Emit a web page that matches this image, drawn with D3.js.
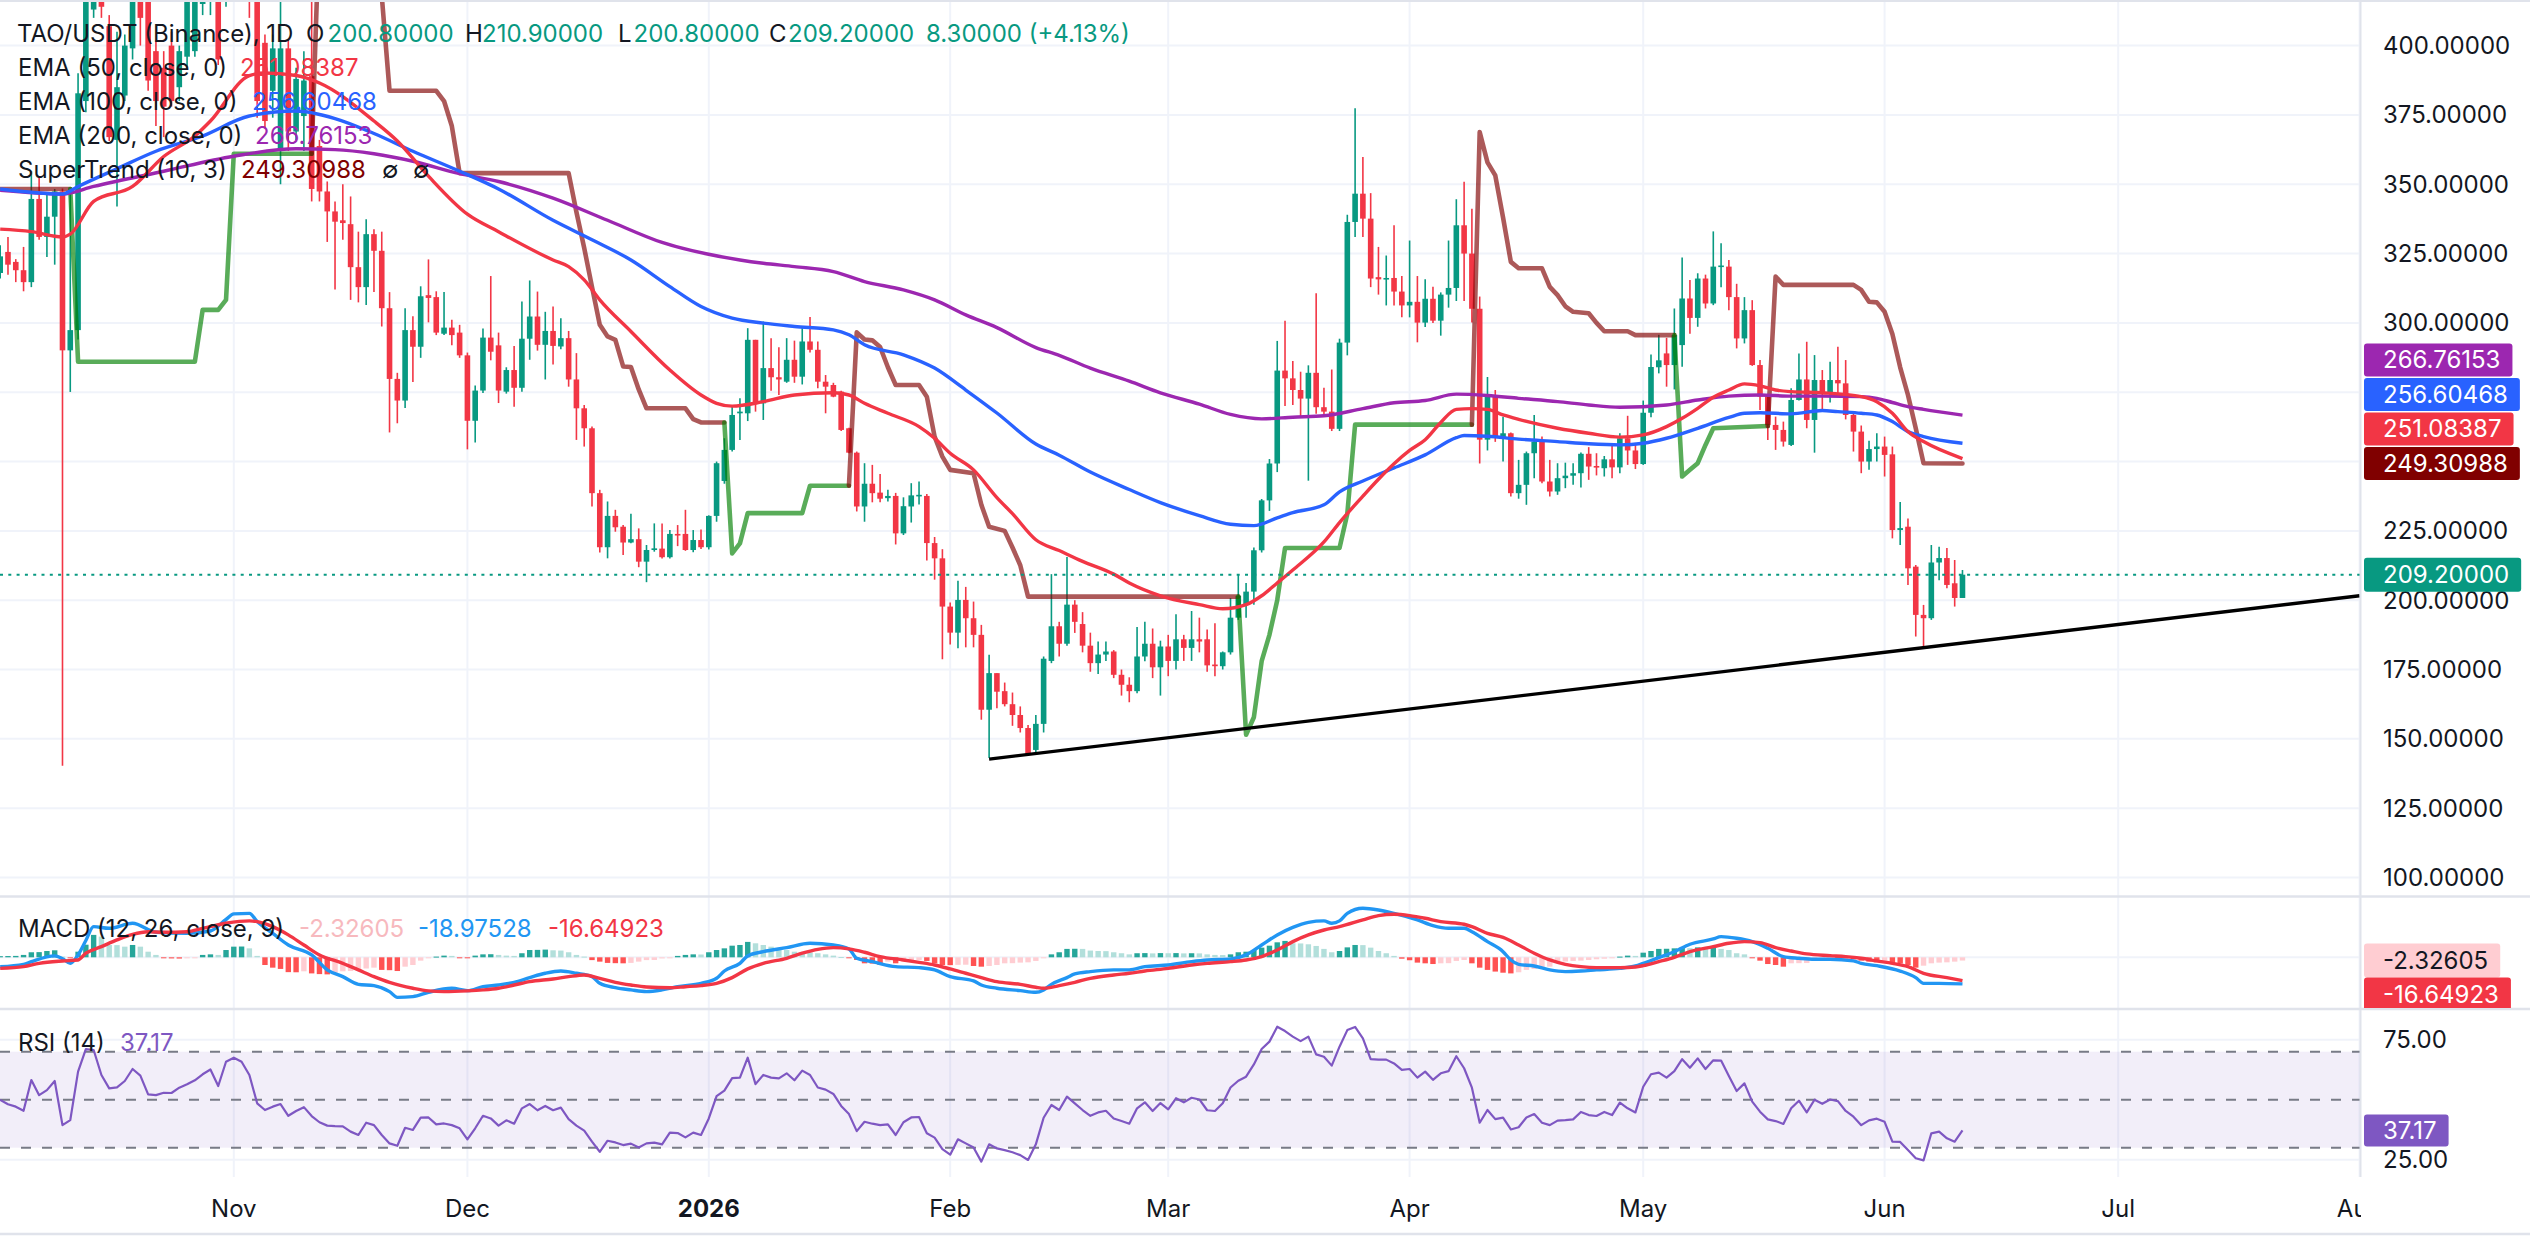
<!DOCTYPE html>
<html>
<head>
<meta charset="utf-8">
<script src="https://cdn.jsdelivr.net/npm/d3@7"></script>
<style>
  html, body { margin: 0; padding: 0; background: #fff; }
  svg text { font-family: Inter, "Noto Sans", sans-serif; }
</style>
</head>
<body>
<svg id="chart" width="2530" height="1253"></svg>
<script>
// ---- data ----
const firstDay = "2025-10-02";

// daily candles [open, high, low, close], one per day from firstDay
const candles = [
  // Oct
  [318,328,316,324],[325.6,331,317.4,321],[322,323,314.7,319],[319,327.4,311.4,314.7],[314.7,354.7,312.9,344.7],
  [344.7,352.9,330,331],[331,346.5,323.8,338.3],[338.3,348.3,321,347.4],[347.4,348.5,140.3,290.1],[290.1,347.4,275.1,297.4],
  [297.4,390,294,382.8],[380,440,376,425],[413,440,410,432],[432,440,410,414],[407,411,365.6,367],
  [366,405,342,385],[382,404,380,400],[399,425,395,418],[418,428,400,410],[420,430,383.7,387.4],
  [398,402,371,380],[392,398,367,378],[400,405,378,380],[385,400,380,398],[396,425,392,416],
  [398,430,396,420],[415,440,411,425],[418,440,411,430],[430,440,393,395],[418,445,414,430],
  // Nov
  [430,450,420,440],[440,452,424,432],[432,440,410,420],[416,430,374,380],[401,404,370,372.8],
  [383.7,404,374,399],[362,416,350,399],[399,402,362,369],[369,392,366,388],[374.6,398,362,387.4],
  [389,416,343.8,348.3],[363.8,366,343.8,347.4],[347.4,351,329.2,340.2],[340.2,343.8,312,336.5],[337,350,330,336],
  [335.6,345.6,308.3,320.1],[320.1,332.9,307.4,312.9],[312.9,337.4,306.5,332],[332,333.8,311.1,326],[326,332.9,298.7,305.3],
  [305.3,311.1,260.5,279.8],[279.8,282,263.8,272],[272,305.3,269.3,297.4],[297.4,302.4,278.7,291.4],[291.4,313.2,287.4,309.6],
  [310,322.9,300.2,309],[309.3,311.4,295.6,296.5],[296.1,311.1,295.6,298.3],[298.3,301.1,291.9,295.6],[296.5,299.3,287.4,288.3],
  // Dec
  [288.3,289.3,254.4,264.7],[264.7,277.4,256.9,275.6],[275.6,298,274.7,294.7],[294.7,316.9,286.5,289.6],[291.9,296.5,271.1,275.6],
  [275.2,284,274.5,283],[283,291.7,269.8,276.6],[276.6,307.7,275.2,294.3],[294.3,315.3,286.7,302.3],[302.3,311.3,290,292.1],
  [292.1,304,279.6,297.1],[297.1,305.9,285,291.7],[291.5,301.7,290.5,294.5],[294.5,297.1,277,279.6],[279.6,289.1,257.8,269.2],
  [269.2,270.4,255.4,262],[262,262.6,233.8,238.6],[238.6,239.8,217.2,219.1],[219.1,235.6,215.1,230.4],[230.4,232.6,224.7,226.3],
  [226.5,227.1,216.3,220.8],[220.8,231.2,220.5,222],[222,225.9,211.9,213.9],[213.9,219.9,206.5,218.1],[218.1,227.7,217.5,218.7],
  [218.6,227.7,215,215.5],[215.5,225.3,215,223.9],[223.9,227.1,219.5,223.5],[223.9,232.6,217.8,218.1],[218.1,225.3,217.3,221.7],
  [221.7,225.5,218.5,219.1],
  // Jan
  [219.1,230.6,218.3,230.4],[230.4,250,228.3,249.4],[243,258.4,242,254.2],[254.2,269.8,253.6,266.8],[267.4,272.8,257.8,268],
  [267.4,298.1,264.6,293.9],[293.9,293.9,268,271],[271,300.5,265,283.7],[283.7,294.5,275.5,280.4],[280.4,291.2,274,279.6],
  [278.8,294.5,278.4,286.7],[286.7,293.6,278.4,280.6],[280.6,298.1,277.8,293.3],[293.3,302.1,289.3,290.3],[290.3,293.3,276.4,278.8],
  [278.8,281.2,267.4,277],[277.6,278.4,273.2,273.4],[275.2,275.5,261,261.4],[262,262.2,253,253.2],[253.2,253.6,232,233.8],
  [233.8,249.4,228.3,242],[242,248.8,235.3,238.6],[238.8,245.5,235.3,236.6],[236.8,239.8,235.6,237.6],[237.6,238.7,220.1,224.1],
  [224.1,237.1,223.5,233.9],[233.8,242.2,228,237.8],[237.7,242.8,234.5,238],[237.6,238.3,214.3,220.6],[220.6,222.8,207.4,215.1],
  [215.1,218.4,178.7,197.7],
  // Feb
  [197.7,199.2,184,188.3],[188.3,207,182.7,200.1],[200.1,204.8,183,193.5],[193.5,199.5,183,187.5],[187.5,191.1,156.9,160.5],
  [160.5,180.3,143.1,173.7],[173.7,173.7,161,167],[167.2,170.3,161.7,162.5],[162.5,166.7,154.7,158.6],[158.6,161.7,152.3,153.9],
  [153.9,155,143.8,144.5],[146,158.6,145,155.4],[155.4,179.7,152.3,178.9],[178.1,209.4,177.3,190.6],[190.6,192.2,179.7,184.3],
  [184.3,215.6,183.6,198.4],[198.4,200,188.2,192.2],[191.4,195.7,181.2,183.6],[183.6,188.3,174.2,177.3],[177.3,185.1,173.4,180.4],
  [180.4,185.1,178.1,181.5],[181.5,182,171.9,173.1],[173.1,175,165.6,169.5],[169.5,172.2,163.2,167.2],[167.2,190.3,166.4,179.7],
  [179.7,192.2,178,184.3],[184.3,189.8,171.9,175.8],[175.8,185.4,165.6,183.3],
  // Mar
  [183.3,187.5,172.6,178.1],[178.1,194.9,175,185.9],[185.9,187.5,178.1,182.8],[182.8,196.1,178.1,185.9],[185.9,193.7,181.2,185.1],
  [185.9,189.4,174.2,176.5],[176.8,191.7,172.6,176.2],[176.2,181.5,175,181.2],[181.2,200.8,180.4,193.7],[193.7,209.4,192.9,201.6],
  [198.4,206.2,193.7,203.1],[203.1,219,198.4,218],[218,236.5,217.2,236],[236,250.9,232.2,249.3],[249.3,293.5,246.2,282.8],
  [282.8,300.8,270,280],[280,286.3,270.4,275.8],[275.8,282.4,265.7,272.7],[272.7,284.7,243.1,282],[282,310.7,267.2,269.6],
  [269.6,276.6,266.5,268],[268,283.2,261,261.8],[261.8,294.3,261,292.9],[292.9,339,288.3,336.4],[336.4,377.4,331,346.6],
  [346.6,359.8,331,337.6],[337.6,346.8,312.9,316],[316.5,327.4,310.2,315.7],[315.7,324.3,306.3,316.2],[316.2,335.2,306.3,311.3],
  [311.3,316.9,302,306.3],
  // Apr
  [306.3,329.7,302,307.6],[307.6,316.9,293,300.1],[300.1,315.7,298.5,308.7],[308.7,313,300,300.8],[300.8,311,295.4,310.2],
  [310.2,329.7,305.5,312.6],[312.6,344.6,307.9,335.2],[335.2,350.9,307.9,325],[325,341.2,300.1,305.1],[305.1,309.5,249.3,257.9],
  [257.9,280.5,254,273.6],[273.6,275.8,257.1,258.6],[258.6,266.2,250,260.2],[260.2,260.5,237.4,238.6],[238.6,250.6,236.6,241.6],
  [241.6,253.6,234.4,253],[253,266.8,244,257.2],[257.2,259,242.2,242.8],[242.8,250.6,237.4,239.2],[239.2,249.4,238,244],
  [244,249.6,240.4,244.9],[244.9,249.4,241.6,245.8],[245.8,253.3,240.6,252.8],[252.8,255.2,243.4,248.2],[248.4,253,245,248],
  [247.6,252,244.6,250.8],[250.8,256.6,244,247.9],[247.9,260.2,245.8,258.4],[258.4,266.5,248.8,254],[254,256.6,247.3,249.1],
  // May
  [249.1,272,248.8,267.6],[267.6,288.6,266,284.1],[284,295.7,281.8,286.5],[289,294.6,277,284.8],[284.8,305.2,276,295.6],
  [292,323.6,284.2,308.8],[308.8,315.5,296.1,301.8],[301.8,317.9,298.6,316],[316,317.4,305.2,307],[307,333,306.4,320.3],
  [320.3,328.7,312.9,320.7],[320.3,322.7,304.6,309.3],[309.3,314.1,290.8,294.4],[294.4,309.3,292.6,304.6],[304.6,308.2,284.5,284.8],
  [284.8,286.6,268.6,273.4],[273.4,274,257.8,263.2],[263.2,266.2,254.2,261.4],[261.4,264.4,255.4,257.2],[256,276.4,255.6,272.2],
  [272.2,289,272,279.6],[279.6,293.2,262,265],[265,288.4,253.2,279.4],[279.4,283,268.6,274.6],[274.6,286,271.3,279.4],
  [279.4,291.4,274,278.2],[278.2,286.6,265.2,266.8],[266.8,267.4,253.6,260.8],[260.8,263,245.8,250],[250,257.5,247,254.5],
  [254.5,260.2,250,255.4],
  // Jun
  [255.4,259,244.6,252.4],[252.6,255.4,222.3,225.3],[225.3,235.4,219.9,226],[226.5,229.5,205.5,211.5],[212.1,212.7,186.9,194.7],
  [194.7,198.3,183.3,193.5],[193.5,219.9,192.9,213.6],[213.6,219.3,207.2,215.2],[215.2,218.8,204.3,205.5],[206.1,214.5,197.7,200.8],
  [200.8,210.9,200.8,209.2]
];

const ema50 = [
  ["2025-10-02",333.8],["2025-10-06",332.9],["2025-10-10",331.0],["2025-10-11",332.0],["2025-10-14",343.8],["2025-10-19",349.2],
  ["2025-10-23",360.0],["2025-10-27",367.4],["2025-10-29",372.8],["2025-11-03",389.2],["2025-11-05",390.1],["2025-11-09",389.2],
  ["2025-11-12",386.5],["2025-11-19",372.8],["2025-11-22",365.6],["2025-11-26",352.9],["2025-12-01",339.2],["2025-12-05",332.9],
  ["2025-12-12",322.7],["2025-12-14",320.3],["2025-12-16",315.5],["2025-12-18",308.3],["2025-12-22",296.9],["2025-12-27",283.0],
  ["2025-12-31",274.0],["2026-01-02",271.0],["2026-01-04",270.0],["2026-01-08",271.6],["2026-01-12",274.0],["2026-01-17",274.8],
  ["2026-01-19",274.0],["2026-01-21",271.0],["2026-01-24",267.4],["2026-01-28",262.6],["2026-01-30",258.4],["2026-02-01",253.0],
  ["2026-02-04",247.0],["2026-02-07",237.0],["2026-02-09",231.2],["2026-02-12",221.8],["2026-02-15",217.9],["2026-02-18",214.0],
  ["2026-02-22",209.4],["2026-02-24",206.2],["2026-02-28",201.6],["2026-03-05",198.4],["2026-03-08",196.9],["2026-03-11",198.4],
  ["2026-03-13",201.6],["2026-03-15",206.2],["2026-03-17",210.9],["2026-03-21",221.0],["2026-03-23",228.0],["2026-03-26",237.5],
  ["2026-03-28",243.6],["2026-03-30",249.2],["2026-04-01",254.0],["2026-04-03",257.9],["2026-04-05",264.1],["2026-04-07",268.8],
  ["2026-04-09",269.1],["2026-04-11",268.8],["2026-04-13",266.8],["2026-04-15",265.2],["2026-04-20",262.0],["2026-04-24",260.2],
  ["2026-04-28",258.8],["2026-05-01",259.6],["2026-05-04",262.6],["2026-05-06",265.6],["2026-05-08",269.2],["2026-05-10",273.2],
  ["2026-05-12",275.8],["2026-05-14",278.0],["2026-05-16",277.3],["2026-05-18",275.8],["2026-05-20",275.2],["2026-05-24",274.8],
  ["2026-05-29",273.4],["2026-05-31",271.6],["2026-06-02",267.4],["2026-06-04",260.8],["2026-06-06",257.2],["2026-06-11",251.08]
];

const ema100 = [
  ["2025-10-02",348.3],["2025-10-10",346.5],["2025-10-12",349.2],["2025-10-17",355.6],["2025-10-22",361.9],["2025-10-28",367.4],
  ["2025-11-03",374.6],["2025-11-09",376.4],["2025-11-14",373.7],["2025-11-19",368.3],["2025-11-24",361.9],["2025-11-30",354.7],
  ["2025-12-05",348.3],["2025-12-12",337.0],["2025-12-17",330.0],["2025-12-22",322.7],["2025-12-27",313.1],["2025-12-31",305.9],
  ["2026-01-04",301.7],["2026-01-08",299.9],["2026-01-12",298.7],["2026-01-17",297.5],["2026-01-19",295.7],["2026-01-21",292.1],
  ["2026-01-26",288.5],["2026-01-30",283.7],["2026-02-03",275.8],["2026-02-07",267.5],["2026-02-12",256.3],["2026-02-15",252.3],
  ["2026-02-19",246.2],["2026-02-24",239.9],["2026-02-28",235.2],["2026-03-05",230.5],["2026-03-09",227.4],["2026-03-12",226.9],
  ["2026-03-15",229.7],["2026-03-17",231.6],["2026-03-21",234.4],["2026-03-23",239.1],["2026-03-26",243.0],["2026-03-30",247.7],
  ["2026-04-03",252.4],["2026-04-07",258.6],["2026-04-08",259.4],["2026-04-11",259.1],["2026-04-15",258.1],["2026-04-20",257.2],
  ["2026-04-24",256.4],["2026-04-28",256.0],["2026-05-01",256.6],["2026-05-04",258.4],["2026-05-08",262.0],["2026-05-12",265.9],
  ["2026-05-14",267.4],["2026-05-16",267.6],["2026-05-20",267.2],["2026-05-24",268.4],["2026-05-26",268.0],["2026-05-29",267.4],
  ["2026-05-31",266.8],["2026-06-02",264.4],["2026-06-04",260.8],["2026-06-06",259.0],["2026-06-11",256.6]
];

const ema200 = [
  ["2025-10-02",347.8],["2025-10-10",346.5],["2025-10-14",349.2],["2025-10-23",354.7],["2025-11-01",360.1],["2025-11-09",362.8],
  ["2025-11-14",362.5],["2025-11-19",361.0],["2025-11-24",358.3],["2025-11-30",353.8],["2025-12-05",351.0],["2025-12-12",345.0],
  ["2025-12-19",337.0],["2025-12-26",329.0],["2026-01-05",322.7],["2026-01-08",321.5],["2026-01-12",320.3],["2026-01-17",318.5],
  ["2026-01-21",314.9],["2026-01-26",311.9],["2026-01-30",308.3],["2026-02-03",302.9],["2026-02-07",298.3],["2026-02-12",291.1],
  ["2026-02-15",288.3],["2026-02-19",283.7],["2026-02-24",279.0],["2026-02-28",274.8],["2026-03-05",270.7],["2026-03-09",267.0],
  ["2026-03-13",265.4],["2026-03-17",266.0],["2026-03-21",266.5],["2026-03-26",269.1],["2026-03-30",271.2],["2026-04-03",272.0],
  ["2026-04-07",274.3],["2026-04-11",273.8],["2026-04-15",272.8],["2026-04-20",271.6],["2026-04-24",270.4],["2026-04-28",269.6],
  ["2026-05-04",270.4],["2026-05-08",272.2],["2026-05-12",273.6],["2026-05-16",274.0],["2026-05-20",273.6],["2026-05-24",273.6],
  ["2026-05-29",273.4],["2026-05-31",272.8],["2026-06-02",271.3],["2026-06-04",269.8],["2026-06-06",268.8],["2026-06-11",266.76]
];

// SuperTrend vertices [date, value, trend]
const superTrend = [
  ["2025-10-02",348.3,"dn"],["2025-10-11",348.3,"dn"],["2025-10-12",286,"up"],["2025-10-27",286,"up"],["2025-10-28",304.7,"up"],
  ["2025-10-30",304.7,"up"],["2025-10-31",308.3,"up"],["2025-11-01",361,"up"],["2025-11-11",361,"up"],["2025-11-12",445,"dn"],
  ["2025-11-19",430,"dn"],["2025-11-20",418,"dn"],["2025-11-21",383.7,"dn"],["2025-11-27",383.7,"dn"],["2025-11-28",380,"dn"],
  ["2025-11-29",371,"dn"],["2025-11-30",354,"dn"],["2025-12-14",354,"dn"],["2025-12-15",340,"dn"],["2025-12-16",327,"dn"],
  ["2025-12-17",313,"dn"],["2025-12-18",299.3,"dn"],["2025-12-19",295.1,"dn"],["2025-12-20",293.9,"dn"],["2025-12-21",284.3,"dn"],
  ["2025-12-22",284.1,"dn"],["2025-12-23",276,"dn"],["2025-12-24",269.2,"dn"],["2025-12-29",269.2,"dn"],["2025-12-30",265.3,"dn"],
  ["2025-12-31",264.1,"dn"],["2026-01-03",264.1,"dn"],["2026-01-04",216.9,"up"],["2026-01-05",220.5,"up"],["2026-01-06",231.4,"up"],
  ["2026-01-13",231.4,"up"],["2026-01-14",241.3,"up"],["2026-01-19",241.3,"up"],["2026-01-20",296.6,"dn"],["2026-01-21",294,"dn"],
  ["2026-01-22",293.7,"dn"],["2026-01-23",291.3,"dn"],["2026-01-24",284,"dn"],["2026-01-25",277.6,"dn"],["2026-01-28",277.6,"dn"],
  ["2026-01-29",273.4,"dn"],["2026-01-30",259,"dn"],["2026-01-31",251.8,"dn"],["2026-02-01",247,"dn"],["2026-02-04",245.8,"dn"],
  ["2026-02-05",234.4,"dn"],["2026-02-06",226.5,"dn"],["2026-02-08",225,"dn"],["2026-02-09",219,"dn"],["2026-02-10",212.6,"dn"],
  ["2026-02-11",201.3,"dn"],["2026-03-10",201.3,"dn"],["2026-03-11",151.5,"up"],["2026-03-12",157.8,"up"],["2026-03-13",178,"up"],
  ["2026-03-14",187.5,"up"],["2026-03-15",200,"up"],["2026-03-16",218.8,"up"],["2026-03-23",218.8,"up"],["2026-03-24",231.2,"up"],
  ["2026-03-25",263.3,"up"],["2026-04-09",263.3,"up"],["2026-04-10",368.8,"dn"],["2026-04-11",357.9,"dn"],["2026-04-12",353.2,"dn"],
  ["2026-04-13",338,"dn"],["2026-04-14",322,"dn"],["2026-04-15",319.7,"dn"],["2026-04-18",319.7,"dn"],["2026-04-19",313,"dn"],
  ["2026-04-20",310,"dn"],["2026-04-21",306,"dn"],["2026-04-22",304,"dn"],["2026-04-24",303.5,"dn"],["2026-04-25",300,"dn"],
  ["2026-04-26",297,"dn"],["2026-04-29",297,"dn"],["2026-04-30",295.6,"dn"],["2026-05-05",295.6,"dn"],["2026-05-06",244.6,"up"],
  ["2026-05-07",247,"up"],["2026-05-08",249.4,"up"],["2026-05-09",256,"up"],["2026-05-10",262,"up"],["2026-05-17",262.8,"up"],
  ["2026-05-18",316.7,"dn"],["2026-05-19",313.7,"dn"],["2026-05-28",313.7,"dn"],["2026-05-29",311.9,"dn"],["2026-05-30",307.6,"dn"],
  ["2026-05-31",307.4,"dn"],["2026-06-01",304,"dn"],["2026-06-02",296,"dn"],["2026-06-03",284,"dn"],["2026-06-04",274,"dn"],
  ["2026-06-05",262,"dn"],["2026-06-06",249.4,"dn"],["2026-06-11",249.31,"dn"]
];

const trendLine = [["2026-02-06",142.7],["2026-08-01",201.6]];

const macdLine = [
  ["2025-10-02",-6.7],["2025-10-05",-5.0],["2025-10-06",-3.1],["2025-10-09",1.0],["2025-10-10",-1.0],["2025-10-11",-4.3],
  ["2025-10-12",1.7],["2025-10-13",12.0],["2025-10-14",21.9],["2025-10-16",20.7],["2025-10-19",24.3],["2025-10-22",17.9],
  ["2025-10-26",17.1],["2025-10-29",18.8],["2025-10-31",27.0],["2025-11-01",31.0],["2025-11-03",31.4],["2025-11-04",25.5],
  ["2025-11-06",17.1],["2025-11-08",8.8],["2025-11-11",1.7],["2025-11-13",-9.0],["2025-11-15",-13.8],["2025-11-17",-19.3],
  ["2025-11-19",-20.2],["2025-11-21",-24.5],["2025-11-22",-28.6],["2025-11-24",-28.1],["2025-11-26",-25.0],["2025-11-29",-22.1],
  ["2025-12-01",-23.8],["2025-12-03",-21.0],["2025-12-05",-19.8],["2025-12-07",-17.9],["2025-12-09",-14.5],["2025-12-11",-11.4],
  ["2025-12-13",-9.8],["2025-12-15",-11.4],["2025-12-17",-13.8],["2025-12-18",-18.6],["2025-12-20",-21.7],["2025-12-22",-23.3],
  ["2025-12-24",-24.5],["2025-12-26",-23.3],["2025-12-28",-21.0],["2025-12-31",-18.6],["2026-01-02",-15.0],["2026-01-03",-9.8],
  ["2026-01-05",-4.3],["2026-01-06",1.0],["2026-01-08",4.0],["2026-01-11",6.9],["2026-01-14",10.0],["2026-01-17",8.8],
  ["2026-01-19",6.0],["2026-01-20",-0.7],["2026-01-22",-3.1],["2026-01-25",-6.7],["2026-01-28",-7.4],["2026-01-30",-9.0],
  ["2026-02-01",-13.8],["2026-02-04",-16.9],["2026-02-05",-19.8],["2026-02-07",-22.1],["2026-02-10",-23.8],["2026-02-12",-25.0],
  ["2026-02-13",-23.3],["2026-02-14",-19.3],["2026-02-16",-14.5],["2026-02-17",-11.9],["2026-02-19",-10.2],["2026-02-22",-9.0],
  ["2026-02-24",-9.0],["2026-02-26",-6.7],["2026-03-01",-5.5],["2026-03-04",-3.1],["2026-03-06",-1.9],["2026-03-09",-1.2],
  ["2026-03-11",1.7],["2026-03-13",8.8],["2026-03-15",16.0],["2026-03-17",21.4],["2026-03-19",25.0],["2026-03-21",26.0],
  ["2026-03-22",24.3],["2026-03-23",26.0],["2026-03-24",31.4],["2026-03-26",35.0],["2026-03-28",33.8],["2026-03-30",31.4],
  ["2026-04-02",26.7],["2026-04-04",22.6],["2026-04-06",20.7],["2026-04-08",20.7],["2026-04-09",18.3],["2026-04-11",11.2],
  ["2026-04-13",4.0],["2026-04-14",-1.9],["2026-04-15",-5.0],["2026-04-17",-6.2],["2026-04-19",-9.0],["2026-04-21",-10.2],
  ["2026-04-23",-9.8],["2026-04-25",-9.0],["2026-04-28",-7.9],["2026-04-30",-6.2],["2026-05-01",-4.3],["2026-05-03",-0.2],
  ["2026-05-05",4.0],["2026-05-07",9.3],["2026-05-10",13.1],["2026-05-11",14.8],["2026-05-13",13.6],["2026-05-15",11.2],
  ["2026-05-17",6.4],["2026-05-19",0.5],["2026-05-21",-0.7],["2026-05-23",-1.4],["2026-05-25",-1.4],["2026-05-28",-2.6],
  ["2026-05-29",-4.3],["2026-05-31",-6.0],["2026-06-03",-9.8],["2026-06-05",-14.5],["2026-06-06",-18.6],["2026-06-08",-18.6],
  ["2026-06-11",-18.98]
];

const signalLine = [
  ["2025-10-02",-7.9],["2025-10-05",-6.7],["2025-10-07",-4.3],["2025-10-10",-2.6],["2025-10-12",-1.9],["2025-10-13",2.9],
  ["2025-10-15",7.6],["2025-10-17",12.4],["2025-10-19",16.4],["2025-10-21",18.3],["2025-10-23",17.9],["2025-10-26",18.3],
  ["2025-10-28",20.7],["2025-10-31",24.3],["2025-11-03",26.0],["2025-11-04",25.5],["2025-11-06",21.9],["2025-11-08",16.0],
  ["2025-11-10",8.8],["2025-11-12",1.7],["2025-11-15",-4.3],["2025-11-17",-9.0],["2025-11-19",-13.8],["2025-11-21",-17.9],
  ["2025-11-24",-22.1],["2025-11-26",-24.0],["2025-11-28",-24.5],["2025-12-01",-24.0],["2025-12-03",-23.3],["2025-12-05",-22.1],
  ["2025-12-07",-19.8],["2025-12-09",-17.4],["2025-12-12",-15.5],["2025-12-14",-13.8],["2025-12-16",-12.6],["2025-12-18",-15.0],
  ["2025-12-20",-17.9],["2025-12-22",-19.8],["2025-12-24",-21.2],["2025-12-27",-21.7],["2025-12-29",-21.0],["2025-12-31",-20.2],
  ["2026-01-02",-18.6],["2026-01-04",-14.5],["2026-01-06",-8.3],["2026-01-08",-4.3],["2026-01-11",-0.7],["2026-01-13",2.9],
  ["2026-01-15",5.7],["2026-01-17",6.9],["2026-01-19",6.0],["2026-01-21",3.6],["2026-01-23",0.5],["2026-01-26",-1.9],
  ["2026-01-28",-3.6],["2026-01-30",-5.5],["2026-02-01",-8.3],["2026-02-03",-11.4],["2026-02-05",-14.5],["2026-02-07",-17.4],
  ["2026-02-10",-19.3],["2026-02-12",-21.4],["2026-02-13",-22.1],["2026-02-15",-20.2],["2026-02-17",-17.9],["2026-02-19",-15.0],
  ["2026-02-22",-12.6],["2026-02-24",-11.4],["2026-02-26",-9.8],["2026-03-01",-7.9],["2026-03-04",-5.5],["2026-03-06",-4.3],
  ["2026-03-09",-3.1],["2026-03-11",-1.9],["2026-03-13",0.5],["2026-03-15",5.2],["2026-03-17",11.2],["2026-03-19",16.0],
  ["2026-03-21",19.5],["2026-03-23",21.9],["2026-03-26",26.7],["2026-03-28",29.8],["2026-03-30",30.7],["2026-04-01",29.8],
  ["2026-04-03",27.9],["2026-04-05",25.5],["2026-04-08",23.6],["2026-04-09",21.9],["2026-04-11",17.1],["2026-04-13",14.2],
  ["2026-04-15",8.8],["2026-04-17",2.9],["2026-04-19",-1.9],["2026-04-21",-5.0],["2026-04-23",-6.7],["2026-04-25",-7.4],
  ["2026-04-28",-7.4],["2026-04-30",-6.9],["2026-05-01",-6.0],["2026-05-03",-3.1],["2026-05-05",0.0],["2026-05-07",4.0],
  ["2026-05-10",7.6],["2026-05-12",10.0],["2026-05-14",11.2],["2026-05-16",10.5],["2026-05-18",6.9],["2026-05-20",4.5],
  ["2026-05-22",2.4],["2026-05-25",1.2],["2026-05-27",0.5],["2026-05-29",-0.7],["2026-05-31",-2.6],["2026-06-02",-4.3],
  ["2026-06-04",-6.7],["2026-06-06",-11.4],["2026-06-09",-14.5],["2026-06-11",-16.65]
];

// MACD histogram, one bar per day from firstDay
const macdHist = [
  0.8,0.9,1.0,1.7,3.6,3.7,4.5,5.0,0.5,-0.7,4.0,9.0,16.0,14.8,8.8,8.7,7.6,8.8,7.6,4.0,1.7,-0.7,-0.8,-0.9,-0.6,-0.2,1.7,2.1,1.7,5.2,
  7.6,7.7,6.4,1.0,-5.5,-7.4,-8.3,-10.6,-10.7,-10.0,-11.5,-12.0,-12.2,-11.0,-10.0,-9.8,-9.5,-8.0,-7.4,-9.0,-9.2,-9.8,-6.7,-5.5,-2.4,-0.7,0.5,1.2,1.0,-0.2,
  -0.4,1.2,2.1,2.2,1.7,1.2,1.0,2.9,5.2,5.3,5.5,5.0,4.8,3.6,1.7,0.5,-2.0,-3.1,-4.0,-4.2,-4.3,-4.0,-3.1,-2.0,-1.9,-0.8,-0.3,1.0,1.7,2.1,2.0,
  3.6,5.2,6.4,8.3,8.8,11.0,10.0,8.8,7.6,6.4,5.2,4.0,3.6,3.4,2.9,2.1,1.2,0.2,-0.7,-1.9,-4.3,-4.5,-5.5,-3.1,-4.3,-3.1,-3.0,-1.9,-2.6,-4.3,-5.5,
  -5.6,-5.4,-5.3,-6.2,-6.7,-6.2,-5.5,-4.3,-4.2,-3.8,-3.6,-2.6,-0.5,2.1,3.6,6.0,6.1,6.0,4.8,4.5,4.4,3.6,2.9,2.1,2.9,3.0,2.8,3.0,
  2.9,3.0,2.8,2.9,2.8,2.1,1.7,1.6,2.1,3.6,4.0,5.2,6.9,8.3,10.7,11.7,10.0,9.9,9.3,8.1,6.0,3.6,4.5,7.1,8.8,8.7,6.9,4.5,2.9,1.0,-1.0,
  -2.1,-3.8,-4.3,-4.8,-4.3,-4.2,-2.6,-1.9,-4.3,-7.4,-9.0,-10.2,-11.0,-11.5,-10.7,-9.0,-8.3,-7.4,-6.7,-3.1,-3.0,-2.6,-2.4,-1.9,-1.4,-1.0,-0.7,0.5,1.2,1.0,
  3.3,4.5,6.0,6.1,6.4,6.9,6.5,7.1,6.9,7.0,6.0,5.2,2.9,2.1,-0.5,-2.4,-4.8,-5.5,-6.7,-4.3,-4.2,-4.1,-0.7,-0.6,-0.2,0.1,-0.7,-1.4,-2.4,-3.1,-3.6,
  -2.4,-4.3,-4.4,-5.5,-7.4,-6.0,-4.3,-3.8,-3.6,-3.1,-2.33
];

// RSI(14), one value per day from firstDay
const rsi = [
  49.9,48.1,47.1,45.4,58.2,51.9,54.0,57.8,39.4,41.5,61.7,71.1,70.7,60.3,54.7,55.1,57.8,62.8,60.0,52.2,51.9,52.9,52.8,55.0,56.4,58.1,60.6,62.6,55.7,65.8,
  67.5,65.8,60.3,48.5,45.7,47.1,48.2,43.3,45.3,46.9,43.2,40.6,39.2,39.0,38.9,36.7,35.3,40.4,39.4,35.3,31.8,30.8,38.3,37.4,42.5,42.6,39.7,40.1,39.4,38.1,
  33.5,38.1,43.3,42.2,39.2,41.4,40.0,46.4,48.2,45.6,47.4,45.6,46.7,41.9,39.2,37.1,32.5,28.3,32.9,32.2,31.1,31.7,30.1,31.8,32.1,31.4,36.3,36.1,34.3,36.3,35.3,
  42.2,51.5,53.8,59.0,59.2,67.5,56.5,60.3,59.2,58.9,61.0,58.1,62.1,60.3,55.1,54.2,52.4,47.4,44.0,36.9,40.8,40.0,39.4,39.7,35.3,40.6,42.6,42.8,36.0,34.2,29.4,
  27.1,33.5,31.8,30.1,24.2,31.4,29.7,29.0,28.1,26.9,24.9,31.4,42.5,47.8,45.7,51.3,48.5,45.7,43.3,44.7,45.4,42.2,41.1,40.0,46.4,48.9,45.3,48.6,
  46.0,50.6,48.9,50.8,50.1,45.6,45.3,48.5,55.1,57.9,59.6,64.7,71.1,74.2,80.4,78.6,76.3,74.4,76.3,68.9,67.9,64.2,72.1,79.0,80.3,75.6,66.9,66.7,66.7,65.1,62.4,
  62.8,59.2,61.7,58.3,61.0,61.9,68.1,63.1,55.0,40.4,45.7,41.9,42.5,37.6,38.5,42.6,44.0,40.4,39.4,41.3,41.5,41.8,44.9,43.6,43.2,44.9,43.6,48.8,46.4,44.7,
  55.4,60.6,61.3,59.2,61.9,66.9,63.3,67.2,62.8,66.4,66.3,59.9,53.6,56.8,49.2,45.0,41.8,41.1,39.9,46.4,49.6,44.7,50.0,48.3,50.1,49.4,45.3,42.9,39.4,41.4,42.1,
  40.8,32.5,32.4,29.0,25.6,24.7,36.0,36.7,33.9,32.5,37.17
];

const priceTicks = [100,125,150,175,200,225,250,275,300,325,350,375,400];
const rsiTicks = [75, 25];
const rsiLevels = [70, 50, 30];
const monthTicks = [
  ["2025-11-01","Nov"],["2025-12-01","Dec"],["2026-01-01","2026"],["2026-02-01","Feb"],["2026-03-01","Mar"],
  ["2026-04-01","Apr"],["2026-05-01","May"],["2026-06-01","Jun"],["2026-07-01","Jul"],["2026-08-01","Aug"]
];

const ohlcLegend = {o: "200.80000", h: "210.90000", l: "200.80000", c: "209.20000", chg: "8.30000 (+4.13%)"};
const lastClose = 209.2;
const maLegend = [
  {label: "EMA (50, close, 0)",  value: 251.08387, color: "#F23645", vx: 240},
  {label: "EMA (100, close, 0)", value: 256.60468, color: "#2962FF", vx: 252},
  {label: "EMA (200, close, 0)", value: 266.76153, color: "#9C27B0", vx: 255},
  {label: "SuperTrend (10, 3)",  value: 249.30988, color: "#800000", vx: 241}
];
const macdLast = {hist: -2.32605, macd: -18.97528, signal: -16.64923};
const rsiLast = 37.17;

// ---- layout ----
const W = 2530, H = 1253;
const plotRight = 2360;
const mainPane = [0, 896], macdPane = [897, 1008], rsiPane = [1010, 1177];
const upCol = "#089981", downCol = "#F23645";
const gridCol = "#F0F3FA", sepCol = "#E0E3EB", textCol = "#131722";

const parse = d3.utcParse("%Y-%m-%d");
const day0 = parse(firstDay);
const dayAt = i => d3.utcDay.offset(day0, i);

const x = d3.scaleUtc().domain([parse("2025-11-01"), parse("2026-08-01")]).range([233.8, 2359.6]);
const y = d3.scaleLinear().domain([100, 400]).range([877.5, 45.6]);
const yM = d3.scaleLinear().domain([-30, 30]).range([999.3, 915.3]);
const yR = d3.scaleLinear().domain([0, 100]).range([1219.7, 979.7]);

const svg = d3.select("#chart");
svg.append("rect").attr("width", W).attr("height", H).attr("fill", "#fff");

const defs = svg.append("defs");
function clip(id, x0, y0, w, h) {
  defs.append("clipPath").attr("id", id).append("rect").attr("x", x0).attr("y", y0).attr("width", w).attr("height", h);
}
clip("clipMain", 0, mainPane[0], plotRight, mainPane[1] - mainPane[0]);
clip("clipMacd", 0, macdPane[0], plotRight, macdPane[1] - macdPane[0]);
clip("clipRsi", 0, rsiPane[0], plotRight, rsiPane[1] - rsiPane[0]);
clip("clipMacdAxis", plotRight, macdPane[0], W - plotRight, macdPane[1] - macdPane[0]);
clip("clipTime", 0, 1180, plotRight + 1, 60);

// ---- grid ----
const grid = svg.append("g");
grid.selectAll("line.v").data(monthTicks).join("line")
  .attr("x1", d => x(parse(d[0]))).attr("x2", d => x(parse(d[0])))
  .attr("y1", 0).attr("y2", rsiPane[1])
  .attr("stroke", gridCol).attr("stroke-width", 2);
grid.selectAll("line.p").data(priceTicks).join("line")
  .attr("x1", 0).attr("x2", plotRight).attr("y1", d => y(d)).attr("y2", d => y(d))
  .attr("stroke", gridCol).attr("stroke-width", 2);
grid.selectAll("line.r").data(rsiTicks).join("line")
  .attr("x1", 0).attr("x2", plotRight).attr("y1", d => yR(d)).attr("y2", d => yR(d))
  .attr("stroke", gridCol).attr("stroke-width", 2);
grid.append("line").attr("x1", 0).attr("x2", plotRight).attr("y1", yM(0)).attr("y2", yM(0))
  .attr("stroke", gridCol).attr("stroke-width", 2);

// ---- main pane ----
const gMain = svg.append("g").attr("clip-path", "url(#clipMain)");

gMain.selectAll("line.wick").data(candles).join("line")
  .attr("x1", (d, i) => x(dayAt(i))).attr("x2", (d, i) => x(dayAt(i)))
  .attr("y1", d => y(d[1])).attr("y2", d => y(d[2]))
  .attr("stroke", d => d[3] >= d[0] ? upCol : downCol).attr("stroke-width", 1.6);
gMain.selectAll("rect.body").data(candles).join("rect")
  .attr("x", (d, i) => x(dayAt(i)) - 2.8).attr("width", 5.6)
  .attr("y", d => y(Math.max(d[0], d[3])))
  .attr("height", d => Math.max(1.6, Math.abs(y(d[0]) - y(d[3]))))
  .attr("fill", d => d[3] >= d[0] ? upCol : downCol);

// supertrend, one path per run of same direction
const runs = [];
superTrend.forEach((p, i) => {
  if (i === 0 || p[2] !== superTrend[i - 1][2]) {
    runs.push({dir: p[2], pts: i > 0 ? [superTrend[i - 1], p] : [p]});
  } else {
    runs[runs.length - 1].pts.push(p);
  }
});
const stLine = d3.line().x(d => x(parse(d[0]))).y(d => y(d[1]));
gMain.selectAll("path.st").data(runs).join("path")
  .attr("d", d => stLine(d.pts))
  .attr("fill", "none")
  .attr("stroke", d => d.dir === "up" ? "#008000" : "#800000")
  .attr("stroke-opacity", 0.65)
  .attr("stroke-width", 4.6)
  .attr("stroke-linejoin", "round").attr("stroke-linecap", "round");

const maLine = d3.line().x(d => x(parse(d[0]))).y(d => y(d[1])).curve(d3.curveMonotoneX);
[[ema200, "#9C27B0"], [ema100, "#2962FF"], [ema50, "#F23645"]].forEach(([data, col]) => {
  gMain.append("path").attr("d", maLine(data)).attr("fill", "none")
    .attr("stroke", col).attr("stroke-width", 3.4).attr("stroke-linejoin", "round");
});

gMain.append("path")
  .attr("d", d3.line().x(d => x(parse(d[0]))).y(d => y(d[1]))(trendLine))
  .attr("stroke", "#000").attr("stroke-width", 3.4).attr("fill", "none");

gMain.append("line").attr("x1", 0).attr("x2", plotRight)
  .attr("y1", y(lastClose)).attr("y2", y(lastClose))
  .attr("stroke", upCol).attr("stroke-width", 2).attr("stroke-dasharray", "3,5.3");

// ---- MACD pane ----
const gMacd = svg.append("g").attr("clip-path", "url(#clipMacd)");
function histColor(v, i) {
  const prev = i > 0 ? macdHist[i - 1] : -Infinity;
  if (v >= 0) return prev < v ? "#26A69A" : "#B2DFDB";
  return prev < v ? "#FFCDD2" : "#FF5252";
}
gMacd.selectAll("rect.h").data(macdHist).join("rect")
  .attr("x", (d, i) => x(dayAt(i)) - 2.7).attr("width", 5.4)
  .attr("y", d => Math.min(yM(0), yM(d)))
  .attr("height", d => Math.max(1, Math.abs(yM(d) - yM(0))))
  .attr("fill", histColor);
const mLine = d3.line().x(d => x(parse(d[0]))).y(d => yM(d[1])).curve(d3.curveMonotoneX);
gMacd.append("path").attr("d", mLine(macdLine)).attr("fill", "none")
  .attr("stroke", "#2196F3").attr("stroke-width", 3.4);
gMacd.append("path").attr("d", mLine(signalLine)).attr("fill", "none")
  .attr("stroke", "#F23645").attr("stroke-width", 3.4);

// ---- RSI pane ----
const gRsi = svg.append("g").attr("clip-path", "url(#clipRsi)");
gRsi.append("rect").attr("x", 0).attr("width", plotRight)
  .attr("y", yR(70)).attr("height", yR(30) - yR(70))
  .attr("fill", "#7E57C2").attr("fill-opacity", 0.1);
gRsi.selectAll("line.lvl").data(rsiLevels).join("line")
  .attr("x1", 0).attr("x2", plotRight).attr("y1", d => yR(d)).attr("y2", d => yR(d))
  .attr("stroke", "#787B86").attr("stroke-width", 2).attr("stroke-dasharray", "10,11");
gRsi.append("path")
  .attr("d", d3.line().x((d, i) => x(dayAt(i))).y(d => yR(d))(rsi))
  .attr("fill", "none").attr("stroke", "#7E57C2").attr("stroke-width", 2.2).attr("stroke-linejoin", "round");

// ---- separators / borders ----
const seps = svg.append("g").attr("stroke", sepCol);
seps.append("line").attr("x1", 0).attr("x2", W).attr("y1", 1).attr("y2", 1).attr("stroke-width", 2);
seps.append("line").attr("x1", 0).attr("x2", W).attr("y1", 896.5).attr("y2", 896.5).attr("stroke-width", 2.5);
seps.append("line").attr("x1", 0).attr("x2", W).attr("y1", 1009).attr("y2", 1009).attr("stroke-width", 2.5);
seps.append("line").attr("x1", 0).attr("x2", W).attr("y1", 1234).attr("y2", 1234).attr("stroke-width", 2.5);
seps.append("line").attr("x1", plotRight + 0.5).attr("x2", plotRight + 0.5).attr("y1", 0).attr("y2", rsiPane[1]).attr("stroke-width", 2);

// ---- right axis ----
const axis = svg.append("g").attr("font-size", 24).attr("fill", textCol);
const labelX = 2383;
axis.selectAll("text.p").data(priceTicks).join("text")
  .attr("x", labelX).attr("y", d => y(d)).attr("dominant-baseline", "central")
  .text(d => d.toFixed(5));
axis.selectAll("text.r").data(rsiTicks).join("text")
  .attr("x", labelX).attr("y", d => yR(d)).attr("dominant-baseline", "central")
  .text(d => d.toFixed(2));

function tag(parent, yc, h, fill, txt, txtCol) {
  const g = parent.append("g");
  const r = g.append("rect").attr("x", 2364).attr("y", yc - h / 2).attr("height", h).attr("rx", 3).attr("fill", fill);
  const t = g.append("text").attr("x", labelX).attr("y", yc).attr("dominant-baseline", "central")
    .attr("font-size", 24).attr("fill", txtCol).text(txt);
  r.attr("width", t.node().getComputedTextLength() + 31);
}

// stacked EMA / SuperTrend value tags
const stacked = maLegend.slice().sort((a, b) => a.value - b.value);
let prevY = null;
stacked.forEach(d => {
  let yc = y(d.value);
  if (prevY !== null) yc = Math.min(yc, prevY - 34.5);
  prevY = yc;
  tag(svg, yc, 33, d.color, d.value.toFixed(5), "#fff");
});
tag(svg, y(lastClose), 34, upCol, lastClose.toFixed(5), "#fff");

const macdAxis = svg.append("g").attr("clip-path", "url(#clipMacdAxis)");
const histY = yM(macdLast.hist);
tag(macdAxis, histY, 34, "#FFCDD2", macdLast.hist.toFixed(5), textCol);
tag(macdAxis, Math.max(yM(macdLast.signal), histY + 34), 34, "#F23645", macdLast.signal.toFixed(5), "#fff");
tag(svg, yR(rsiLast), 32, "#7E57C2", rsiLast.toFixed(2), "#fff");

// ---- time axis ----
svg.append("g").attr("clip-path", "url(#clipTime)")
  .selectAll("text").data(monthTicks).join("text")
  .attr("x", d => x(parse(d[0]))).attr("y", 1208)
  .attr("text-anchor", "middle").attr("dominant-baseline", "central")
  .attr("font-size", 24).attr("fill", textCol)
  .attr("font-weight", d => d[1] === "2026" ? 700 : 400)
  .text(d => d[1]);

// ---- legends ----
const leg = svg.append("g").attr("font-size", 24);
function legText(xp, yp, txt, col) {
  leg.append("text").attr("x", xp).attr("y", yp).attr("dominant-baseline", "central").attr("fill", col).text(txt);
}
legText(17, 33, "TAO/USDT (Binance), 1D", textCol);
legText(306, 33, "O", textCol);  legText(327.5, 33, ohlcLegend.o, upCol);
legText(465, 33, "H", textCol);  legText(482, 33, ohlcLegend.h, upCol);
legText(618, 33, "L", textCol);  legText(633.5, 33, ohlcLegend.l, upCol);
legText(769, 33, "C", textCol);  legText(788, 33, ohlcLegend.c, upCol);
legText(926, 33, ohlcLegend.chg, upCol);

maLegend.forEach((d, i) => {
  const yp = 67 + i * 34;
  legText(18, yp, d.label, textCol);
  legText(d.vx, yp, d.value.toFixed(5), d.color);
});
legText(382, 169, "\u2205", textCol);
legText(413, 169, "\u2205", textCol);

legText(18, 928, "MACD (12, 26, close, 9)", textCol);
legText(299, 928, macdLast.hist.toFixed(5), "#F7B9BE");
legText(418, 928, macdLast.macd.toFixed(5), "#2196F3");
legText(548, 928, macdLast.signal.toFixed(5), "#F23645");

legText(18, 1042, "RSI (14)", textCol);
legText(120, 1042, rsiLast.toFixed(2), "#7E57C2");
</script>
</body>
</html>
